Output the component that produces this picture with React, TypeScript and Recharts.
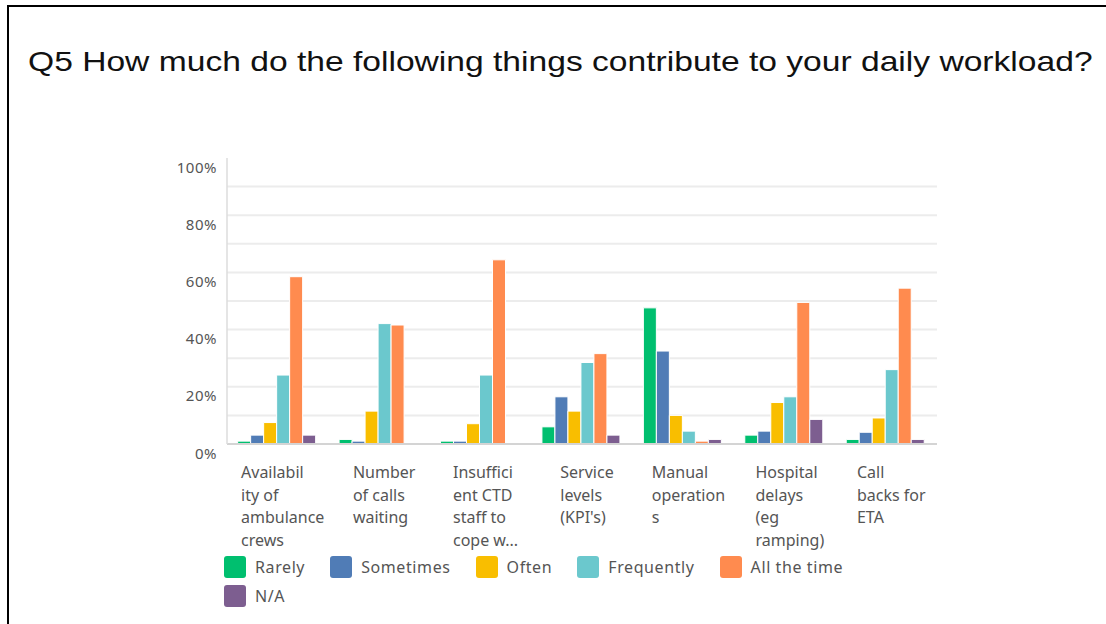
import React from 'react';
import { BarChart, Bar, XAxis, YAxis, CartesianGrid } from 'recharts';

const categories = [
    'Availability of ambulance crews',
    'Number of calls waiting',
    'Insufficient CTD staff to cope w...',
    "Service levels (KPI's)",
    'Manual operations',
    'Hospital delays (eg ramping)',
    'Call backs for ETA',
];

// wrapped the same way the survey tool wraps them
const tickLines = [
    ['Availabil', 'ity of', 'ambulance', 'crews'],
    ['Number', 'of calls', 'waiting'],
    ['Insuffici', 'ent CTD', 'staff to', 'cope w...'],
    ['Service', 'levels', "(KPI's)"],
    ['Manual', 'operation', 's'],
    ['Hospital', 'delays', '(eg', 'ramping)'],
    ['Call', 'backs for', 'ETA'],
];

const rarely = [1.0, 1.6, 1.0, 6.0, 47.6, 3.1, 1.6];
const sometimes = [3.1, 1.0, 1.0, 16.5, 32.5, 4.5, 4.1];
const often = [7.5, 11.5, 7.1, 11.5, 10.0, 14.5, 9.1];
const frequently = [24.1, 42.1, 24.1, 28.5, 4.5, 16.5, 26.0];
const allTheTime = [58.5, 41.6, 64.4, 31.6, 1.0, 49.5, 54.5];
const notApplicable = [3.1, 0, 0, 3.1, 1.6, 8.6, 1.6];

const seriesNames = ['Rarely', 'Sometimes', 'Often', 'Frequently', 'All the time', 'N/A'];
const seriesValues = [rarely, sometimes, often, frequently, allTheTime, notApplicable];
const seriesColors = ['#00bf6f', '#507cb6', '#f9be00', '#6bc8cd', '#ff8b4f', '#7d5e90'];

const yTicks = [0, 10, 20, 30, 40, 50, 60, 70, 80, 90, 100];
const gridTicks = [10, 20, 30, 40, 50, 60, 70, 80, 90];

const data = categories.map((name, i) => {
    const row: Record<string, string | number> = { name };
    seriesValues.forEach((vals, k) => { row[`s${k}`] = vals[i]; });
    return row;
});

const FONT = '"Noto Sans", sans-serif';
const TEXT = '#555';

let ctx: CanvasRenderingContext2D | null = null;
const measure = (t: string) => {
    if (!ctx) ctx = document.createElement('canvas').getContext('2d');
    if (!ctx) return t.length * 8;
    ctx.font = '16px "Noto Sans"';
    return ctx.measureText(t).width;
};

const CategoryTick = (props: any) => {
    const { x, y, payload } = props;
    const idx = categories.indexOf(payload.value);
    const lines = tickLines[idx] || [String(payload.value)];
    const w = Math.max(...lines.map(measure));
    const left = x - w / 2 + 5;
    return (
        <text x={left} y={y + 34} fill={TEXT} fontSize={16} fontFamily={FONT}>
            {lines.map((l, i) => (
                <tspan key={i} x={left} dy={i === 0 ? 0 : 22.7}>{l}</tspan>
            ))}
        </text>
    );
};

const PercentTick = (props: any) => {
    const { x, y, payload } = props;
    if (payload.value % 20 !== 0) return <g />;
    return (
        <text x={x} y={y + 14.5} textAnchor="end" fill={TEXT} fontSize={15} fontFamily={FONT} letterSpacing={0.5}>
            {payload.value}%
        </text>
    );
};

// minor grid every 10%, but no line at the top (100%) or on the baseline
const gridLines = ({ offset }: any) =>
    gridTicks.map(v => offset.top + offset.height * (1 - v / 100));

export default function App() {
    return (
        <div style={{ position: 'absolute', left: 0, top: 0, width: 1106, height: 624, background: '#fff', overflow: 'hidden' }}>
            <div style={{ position: 'absolute', left: 7, top: 5, width: 1110, height: 640, borderLeft: '2px solid #000', borderTop: '2px solid #000' }} />
            <div style={{ position: 'absolute', left: 28, top: 47.5, fontFamily: '"Liberation Sans", Arial, sans-serif', fontSize: 28, lineHeight: '28px', color: '#111', whiteSpace: 'nowrap', transform: 'scaleX(1.2)', transformOrigin: 'left top' }}>
                Q5 How much do the following things contribute to your daily workload?
            </div>
            <div style={{ position: 'absolute', left: 0, top: 0 }}>
                <BarChart
                    width={1106}
                    height={624}
                    data={data}
                    margin={{ top: 158, right: 169, left: 167, bottom: 70 }}
                    barCategoryGap="10.5%"
                    barGap={0}
                >
                    <CartesianGrid vertical={false} stroke="#ececec" strokeWidth={2} horizontalCoordinatesGenerator={gridLines} />
                    <XAxis
                        dataKey="name"
                        height={110}
                        interval={0}
                        tickLine={false}
                        tickSize={0}
                        tickMargin={0}
                        axisLine={{ stroke: '#d4d4d4', strokeWidth: 2 }}
                        tick={<CategoryTick />}
                    />
                    <YAxis
                        width={60}
                        domain={[0, 100]}
                        ticks={yTicks}
                        interval={0}
                        tickLine={false}
                        tickSize={0}
                        tickMargin={10}
                        axisLine={{ stroke: '#dcdcdc', strokeWidth: 1.5 }}
                        tick={<PercentTick />}
                    />
                    {seriesNames.map((s, k) => (
                        <Bar
                            key={s}
                            dataKey={`s${k}`}
                            name={s}
                            fill={seriesColors[k]}
                            stroke="#fff"
                            strokeWidth={1}
                            isAnimationActive={false}
                        />
                    ))}
                </BarChart>
            </div>
            <div style={{ position: 'absolute', left: 224, top: 556, width: 670, display: 'flex', flexWrap: 'wrap', rowGap: 7 }}>
                {seriesNames.map((s, k) => (
                    <div key={s} style={{ display: 'flex', alignItems: 'center', marginRight: 25, height: 22 }}>
                        <div style={{ width: 22, height: 22, borderRadius: 3, background: seriesColors[k] }} />
                        <span style={{ marginLeft: 9, fontFamily: FONT, fontSize: 16, color: TEXT, letterSpacing: 0.6, lineHeight: '22px' }}>{s}</span>
                    </div>
                ))}
            </div>
        </div>
    );
}
